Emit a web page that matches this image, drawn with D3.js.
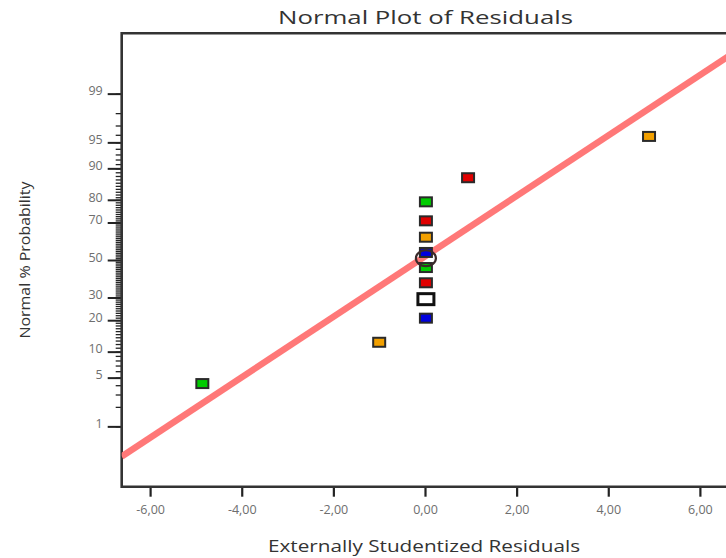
<!DOCTYPE html>
<html>
<head>
<meta charset="utf-8">
<script src="https://cdn.jsdelivr.net/npm/d3@7"></script>
<style>
  html, body { margin: 0; padding: 0; background: #fff; }
  svg { display: block; font-family: "Open Sans", "Noto Sans", sans-serif; }
</style>
</head>
<body>
<svg id="chart" width="726" height="558"></svg>
<script>
// Residual values (externally studentized) and their normal % probability
const residuals = [-4.86, -1.00, 0.02, 0.02, 0.02, 0.02, 0.02, 0.02, 0.02, 0.02, 0.94, 4.89];
const percents  = [4.2, 12.5, 20.8, 29.2, 37.5, 45.8, 54.2, 62.5, 70.8, 79.2, 87.5, 95.8];
const pointColors = ["#00cc00", "#f2a000", "#0000dd", "#ffffff", "#e00000", "#00cc00",
                     "#0000dd", "#f2a000", "#e00000", "#00cc00", "#e00000", "#f2a000"];
const highlighted = [false, false, false, true, false, false, false, false, false, false, false, false];

// Reference line end points (residual, %)
const fitX = [-6.62, 6.62];
const fitP = [0.30, 99.78];

// Selected-run ring
const ringX = 0.02;
const ringP = 51;

// Axis ticks
const xTicks = [-6, -4, -2, 0, 2, 4, 6];
const yTickLabels = [1, 5, 10, 20, 30, 50, 70, 80, 90, 95, 99];
const yMinorTicks = d3.range(1, 100);

// Inverse standard normal CDF (Acklam's rational approximation)
function probit(p) {
  const a = [-3.969683028665376e+01, 2.209460984245205e+02, -2.759285104469687e+02,
             1.383577518672690e+02, -3.066479806614716e+01, 2.506628277459239e+00];
  const b = [-5.447609879822406e+01, 1.615858368580409e+02, -1.556989798598866e+02,
             6.680131188771972e+01, -1.328068155288572e+01];
  const c = [-7.784894002430293e-03, -3.223964580411365e-01, -2.400758277161838e+00,
             -2.549732539343734e+00, 4.374664141464968e+00, 2.938163982698783e+00];
  const d = [7.784695709041462e-03, 3.224671290700398e-01, 2.445134137142996e+00,
             3.754408661907416e+00];
  const pl = 0.02425, ph = 1 - pl;
  let q, r;
  if (p < pl) {
    q = Math.sqrt(-2 * Math.log(p));
    return (((((c[0]*q+c[1])*q+c[2])*q+c[3])*q+c[4])*q+c[5]) /
           ((((d[0]*q+d[1])*q+d[2])*q+d[3])*q+1);
  } else if (p <= ph) {
    q = p - 0.5; r = q * q;
    return (((((a[0]*r+a[1])*r+a[2])*r+a[3])*r+a[4])*r+a[5])*q /
           (((((b[0]*r+b[1])*r+b[2])*r+b[3])*r+b[4])*r+1);
  } else {
    q = Math.sqrt(-2 * Math.log(1 - p));
    return -(((((c[0]*q+c[1])*q+c[2])*q+c[3])*q+c[4])*q+c[5]) /
            ((((d[0]*q+d[1])*q+d[2])*q+d[3])*q+1);
  }
}

const svg = d3.select("#chart");
const frame = { left: 121.7, top: 33.3, bottom: 486.7, right: 728.3 };

const x = d3.scaleLinear().domain([-6.62, 6.62]).range([frame.left, frame.right]);
const z = d3.scaleLinear().domain([-3.17, 3.17]).range([frame.bottom, frame.top]);
const yP = p => z(probit(p / 100));

const locale = d3.formatLocale({ decimal: ",", thousands: ".", grouping: [3], currency: ["", ""], minus: "-" });
const fmt = locale.format(".2f");

svg.append("defs").append("clipPath").attr("id", "plotClip")
  .append("rect")
  .attr("x", frame.left).attr("y", frame.top)
  .attr("width", frame.right - frame.left).attr("height", frame.bottom - frame.top);

// Title
svg.append("text")
  .attr("x", 425.5).attr("y", 24)
  .attr("text-anchor", "middle")
  .attr("font-size", 19)
  .attr("fill", "#333")
  .attr("textLength", 295).attr("lengthAdjust", "spacingAndGlyphs")
  .text("Normal Plot of Residuals");

// Minor probability ticks (every whole percent)
const minor = d3.axisLeft(z)
  .tickValues(yMinorTicks.map(p => probit(p / 100)))
  .tickSize(6).tickFormat("");
const gMinor = svg.append("g").attr("transform", `translate(${frame.left},0)`).call(minor);
gMinor.select(".domain").remove();
gMinor.selectAll("line").attr("stroke", "#222").attr("stroke-width", 1.3);

// Major labelled probability ticks
const major = d3.axisLeft(z)
  .tickValues(yTickLabels.map(p => probit(p / 100)))
  .tickSize(14).tickPadding(5)
  .tickFormat((d, i) => yTickLabels[i]);
const gMajor = svg.append("g").attr("transform", `translate(${frame.left},0)`).call(major);
gMajor.select(".domain").remove();
gMajor.selectAll("line").attr("stroke", "#222").attr("stroke-width", 2);
gMajor.selectAll("text")
  .attr("font-size", 12.5).attr("fill", "#6e6e6e")
  .attr("font-family", "'Open Sans', 'Noto Sans', sans-serif")
  .attr("dy", "0.1em");

// Residual axis
const xAxis = d3.axisBottom(x).tickValues(xTicks).tickSize(10).tickPadding(8).tickFormat(fmt);
const gx = svg.append("g").attr("transform", `translate(0,${frame.bottom})`).call(xAxis);
gx.select(".domain").remove();
gx.selectAll("line").attr("stroke", "#222").attr("stroke-width", 2.2);
gx.selectAll("text")
  .attr("font-size", 12.5).attr("fill", "#6e6e6e")
  .attr("font-family", "'Open Sans', 'Noto Sans', sans-serif");

// Plot frame (left, top, bottom)
svg.append("path")
  .attr("d", `M${frame.right + 10},${frame.top} H${frame.left} V${frame.bottom} H${frame.right + 10}`)
  .attr("fill", "none").attr("stroke", "#333").attr("stroke-width", 2.6);

// Axis titles
svg.append("text")
  .attr("x", 424).attr("y", 552)
  .attr("text-anchor", "middle")
  .attr("font-size", 16).attr("fill", "#333")
  .attr("textLength", 312).attr("lengthAdjust", "spacingAndGlyphs")
  .text("Externally Studentized Residuals");

svg.append("text")
  .attr("transform", "translate(30,260) rotate(-90)")
  .attr("text-anchor", "middle")
  .attr("font-size", 14).attr("fill", "#333")
  .attr("textLength", 157).attr("lengthAdjust", "spacingAndGlyphs")
  .text("Normal % Probability");

// Reference line
const plot = svg.append("g").attr("clip-path", "url(#plotClip)");
plot.append("line")
  .attr("x1", x(fitX[0])).attr("y1", yP(fitP[0]))
  .attr("x2", x(fitX[1])).attr("y2", yP(fitP[1]))
  .attr("stroke", "#ff7878").attr("stroke-width", 6.5)
  .attr("stroke-linecap", "butt");

// Residual markers
const pts = residuals.map((r, i) => ({ r, p: percents[i], c: pointColors[i], h: highlighted[i] }));
plot.selectAll("rect.pt")
  .data(pts)
  .join("rect")
  .attr("class", "pt")
  .attr("x", d => x(d.r) - (d.h ? 8 : 6))
  .attr("y", d => yP(d.p) - (d.h ? 5.5 : 4.5))
  .attr("width", d => d.h ? 16 : 12)
  .attr("height", d => d.h ? 11 : 9)
  .attr("fill", d => d.c)
  .attr("stroke", d => d.h ? "#111" : "#2a2a2a")
  .attr("stroke-width", d => d.h ? 3 : 2);

// Ring marking the selected run
plot.append("ellipse")
  .attr("cx", x(ringX)).attr("cy", yP(ringP))
  .attr("rx", 10).attr("ry", 8)
  .attr("fill", "none")
  .attr("stroke", "#3a2a2a").attr("stroke-width", 2.2);
</script>
</body>
</html>
